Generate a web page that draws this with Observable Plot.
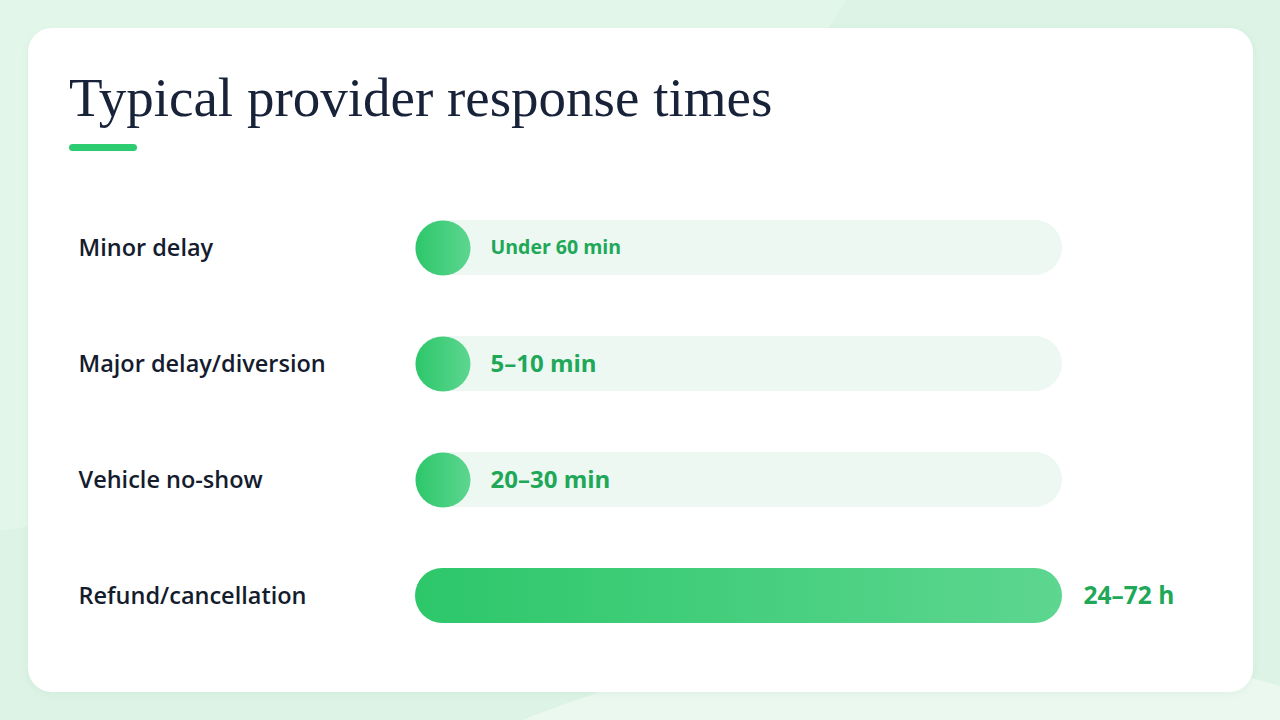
<!DOCTYPE html>
<html>
<head>
<meta charset="utf-8">
<script src="https://cdn.jsdelivr.net/npm/d3@7"></script>
<script src="https://cdn.jsdelivr.net/npm/@observablehq/plot@0.6"></script>
<style>
  html, body { margin: 0; padding: 0; }
  body { width: 1280px; height: 720px; overflow: hidden; position: relative; background: #dcf3e5; font-family: "Open Sans", Lato, sans-serif; }
  .blob { position: absolute; border-radius: 50%; }
  #card { position: absolute; left: 28px; top: 28px; width: 1225px; height: 664px; background: #ffffff; border-radius: 24px; box-shadow: 0 2px 10px rgba(40,120,70,0.05); }
  #title { position: absolute; left: 69px; top: 65px; margin: 0; font-family: "Liberation Serif", "DejaVu Serif", serif; font-weight: 400; font-size: 55px; line-height: 1.2; color: #18233a; white-space: nowrap; }
  #rule { position: absolute; left: 69px; top: 144px; width: 68px; height: 7px; border-radius: 4px; background: #2ecc71; }
  #chart { position: absolute; left: 78px; top: 150px; }
</style>
</head>
<body>
<div class="blob" style="left:-1340px; top:-1840px; width:2380px; height:2380px; background:#e3f6ea;"></div>
<div class="blob" style="left:200px; top:640px; width:1500px; height:900px; background:#ebf8f0;"></div>
<div id="card"></div>
<h1 id="title">Typical provider response times</h1>
<div id="rule"></div>
<div id="chart"></div>
<script>
// ---- data ----
const categories = ["Minor delay", "Major delay/diversion", "Vehicle no-show", "Refund/cancellation"];
const hours = [1, 0.17, 0.5, 72];            // approximate response time, hours
const valueLabels = ["Under 60 min", "5–10 min", "20–30 min", "24–72 h"];
const scaleMax = 72;

const rows = categories.map((c, i) => ({category: c, hours: hours[i], label: valueLabels[i]}));
const inside = rows.filter(d => d.hours < scaleMax * 0.1);
const outside = rows.filter(d => d.hours >= scaleMax * 0.1);

const defs = () => {
  const g = d3.create("svg:defs");
  const lg = g.append("linearGradient").attr("id", "barGrad").attr("x1", "0").attr("x2", "1").attr("y1", "0").attr("y2", "0");
  lg.append("stop").attr("offset", "0%").attr("stop-color", "#2dc76a");
  lg.append("stop").attr("offset", "100%").attr("stop-color", "#5dd690");
  return g.node();
};

const R = 27.5;
const FONT = "'Open Sans', Lato, sans-serif";
const chart = Plot.plot({
  width: 1122,
  height: 535,
  marginLeft: 337,
  marginRight: 138,
  marginTop: 8,
  marginBottom: 0,
  x: {domain: [0, scaleMax], axis: null},
  y: {domain: categories, axis: null, padding: 0.527},
  style: {background: "transparent", overflow: "visible"},
  marks: [
    defs,
    Plot.barX(rows, {x1: 0, x2: scaleMax, y: "category", fill: "#ecf8f1", rx: R}),
    Plot.barX(outside, {x1: 0, x2: "hours", y: "category", fill: "url(#barGrad)", rx: R}),
    Plot.dot(inside, {x: 0, y: "category", r: R, dx: R, fill: "url(#barGrad)", stroke: null}),
    Plot.text(rows, {y: "category", text: "category", frameAnchor: "left", dx: -337, textAnchor: "start",
      fill: "#141c2e", fontSize: 23.5, fontWeight: 550, fontFamily: FONT}),
    Plot.text(inside, {x: 0, y: "category", text: "label", dx: 75, textAnchor: "start",
      fill: "#20a758", fontWeight: 700, fontFamily: FONT,
      fontSize: d => d.label.length > 10 ? 19.5 : 24}),
    Plot.text(outside, {x: "hours", y: "category", text: "label", dx: 21, textAnchor: "start",
      fill: "#20a758", fontWeight: 700, fontSize: 24.5, fontFamily: FONT})
  ]
});
document.getElementById("chart").appendChild(chart);
</script>
</body>
</html>
